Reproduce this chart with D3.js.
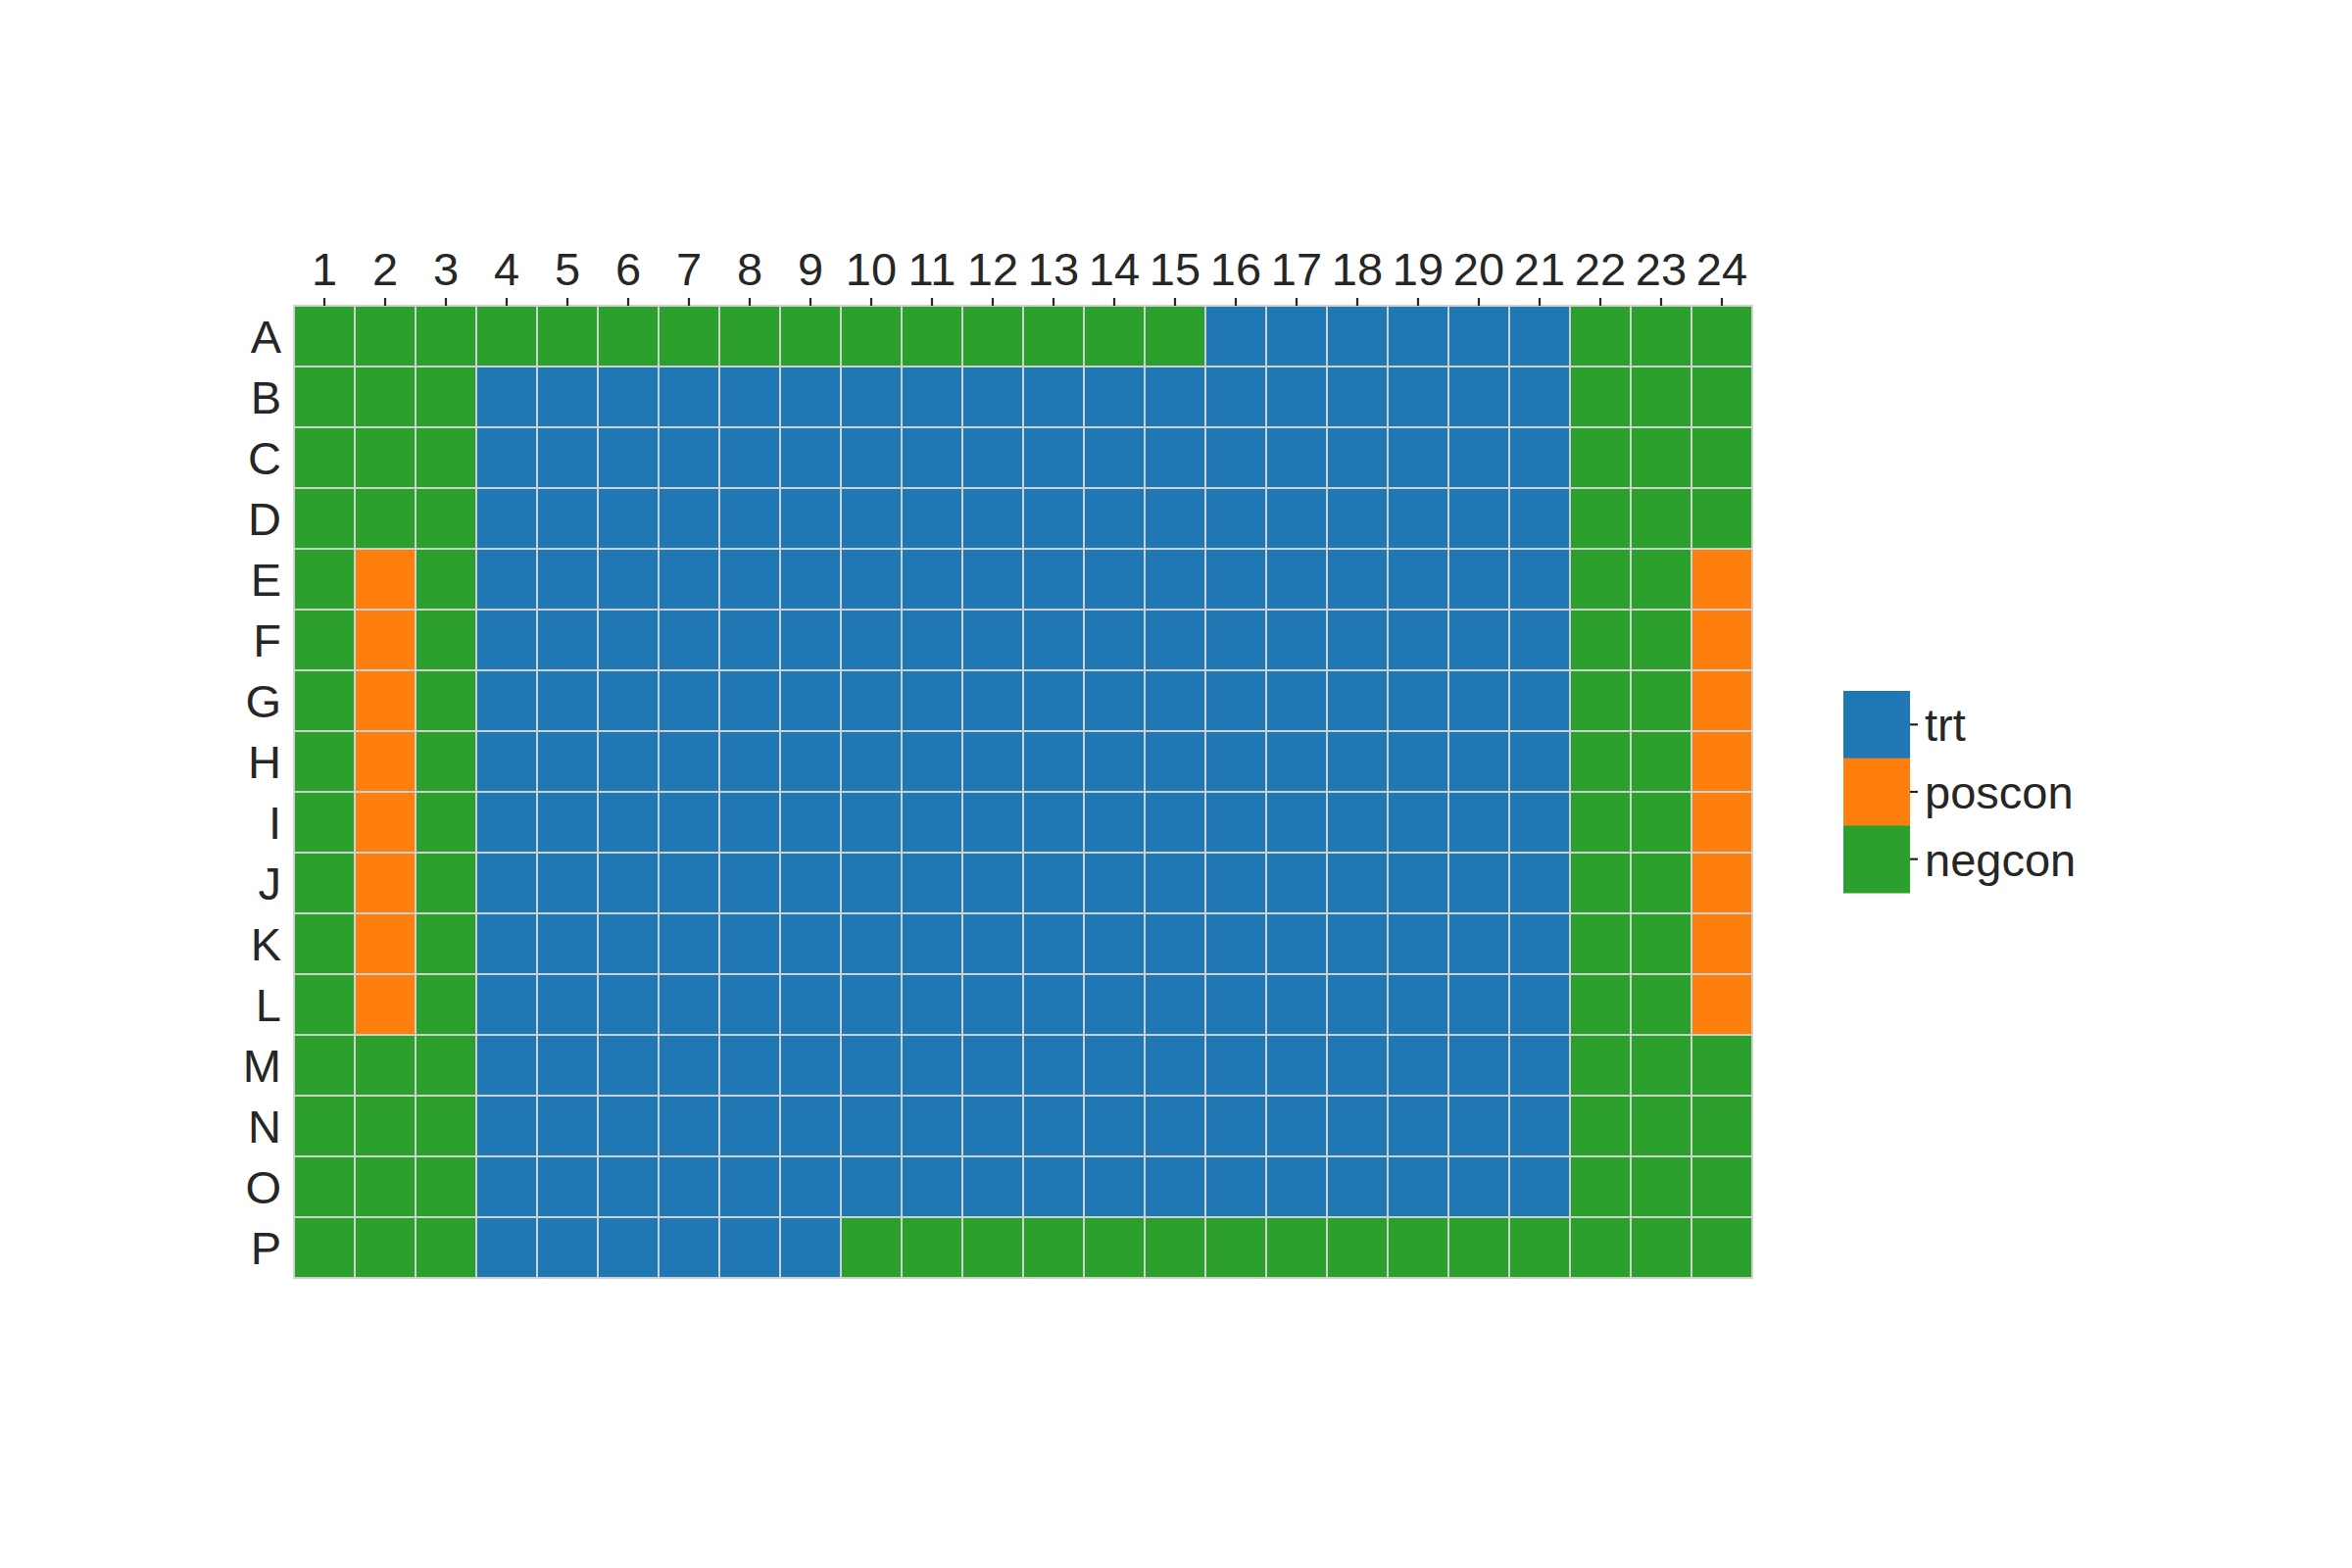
<!DOCTYPE html>
<html>
<head>
<meta charset="utf-8">
<script src="https://cdn.jsdelivr.net/npm/d3@7"></script>
<style>
  html, body { margin: 0; padding: 0; background: #ffffff; }
  svg { display: block; }
</style>
</head>
<body>
<svg id="chart" width="2400" height="1600"></svg>
<script>
// ---- data ----
const rowLabels = ["A","B","C","D","E","F","G","H","I","J","K","L","M","N","O","P"];
const colLabels = ["1","2","3","4","5","6","7","8","9","10","11","12","13","14","15","16","17","18","19","20","21","22","23","24"];
const categories = ["trt", "poscon", "negcon"];
const categoryColors = ["#1f77b4", "#ff7f0e", "#2ca02c"];
// plate layout, one string per row: T = trt, P = poscon, N = negcon
const plateRows = [
  "NNNNNNNNNNNNNNNTTTTTTNNN", // A
  "NNNTTTTTTTTTTTTTTTTTTNNN", // B
  "NNNTTTTTTTTTTTTTTTTTTNNN", // C
  "NNNTTTTTTTTTTTTTTTTTTNNN", // D
  "NPNTTTTTTTTTTTTTTTTTTNNP", // E
  "NPNTTTTTTTTTTTTTTTTTTNNP", // F
  "NPNTTTTTTTTTTTTTTTTTTNNP", // G
  "NPNTTTTTTTTTTTTTTTTTTNNP", // H
  "NPNTTTTTTTTTTTTTTTTTTNNP", // I
  "NPNTTTTTTTTTTTTTTTTTTNNP", // J
  "NPNTTTTTTTTTTTTTTTTTTNNP", // K
  "NPNTTTTTTTTTTTTTTTTTTNNP", // L
  "NNNTTTTTTTTTTTTTTTTTTNNN", // M
  "NNNTTTTTTTTTTTTTTTTTTNNN", // N
  "NNNTTTTTTTTTTTTTTTTTTNNN", // O
  "NNNTTTTTTNNNNNNNNNNNNNNN"  // P
];
const codeToCategory = { T: "trt", P: "poscon", N: "negcon" };

// ---- layout ----
const svg = d3.select("#chart");
const gridLeft = 300, gridTop = 312, cell = 62;
const gridW = cell * colLabels.length, gridH = cell * rowLabels.length;
const textColor = "#262626";
const fontFamily = "'Liberation Sans', Arial, sans-serif";
const fontSize = 47;

const x = d3.scaleBand().domain(colLabels).range([gridLeft, gridLeft + gridW]);
const y = d3.scaleBand().domain(rowLabels).range([gridTop, gridTop + gridH]);
const color = d3.scaleOrdinal().domain(categories).range(categoryColors);

const cells = [];
plateRows.forEach((s, ri) => {
  s.split("").forEach((c, ci) => {
    cells.push({ row: rowLabels[ri], col: colLabels[ci], cat: codeToCategory[c] });
  });
});

svg.append("g").selectAll("rect").data(cells).join("rect")
  .attr("x", d => x(d.col))
  .attr("y", d => y(d.row))
  .attr("width", x.bandwidth())
  .attr("height", y.bandwidth())
  .attr("fill", d => color(d.cat))
  .attr("stroke", "#d0d0d0")
  .attr("stroke-width", 2);

// top axis
const xAxis = svg.append("g")
  .attr("transform", `translate(0,${gridTop})`)
  .call(d3.axisTop(x).tickSize(8).tickPadding(13));
xAxis.select(".domain").remove();
xAxis.selectAll(".tick line").attr("stroke", textColor).attr("stroke-width", 2.2);
xAxis.selectAll(".tick text")
  .attr("fill", textColor)
  .style("font-family", fontFamily)
  .style("font-size", fontSize + "px");

// left axis (labels only)
const yAxis = svg.append("g")
  .attr("transform", `translate(${gridLeft},0)`)
  .call(d3.axisLeft(y).tickSize(0).tickPadding(13));
yAxis.select(".domain").remove();
yAxis.selectAll(".tick text")
  .attr("fill", textColor)
  .attr("dy", "0.36em")
  .style("font-family", fontFamily)
  .style("font-size", fontSize + "px");

// legend colorbar
const legX = 1881, legTop = 705, legW = 68, legH = 206;
const ly = d3.scaleBand().domain(categories).range([legTop, legTop + legH]);
svg.append("g").selectAll("rect").data(categories).join("rect")
  .attr("x", legX)
  .attr("y", d => ly(d))
  .attr("width", legW)
  .attr("height", ly.bandwidth() + 0.5)
  .attr("fill", d => color(d));

const legAxis = svg.append("g")
  .attr("transform", `translate(${legX + legW},0)`)
  .call(d3.axisRight(ly).tickSize(8).tickPadding(7));
legAxis.select(".domain").remove();
legAxis.selectAll(".tick line").attr("stroke", textColor).attr("stroke-width", 2.2);
legAxis.selectAll(".tick text")
  .attr("fill", textColor)
  .attr("dy", "0.36em")
  .style("font-family", fontFamily)
  .style("font-size", fontSize + "px");
</script>
</body>
</html>
